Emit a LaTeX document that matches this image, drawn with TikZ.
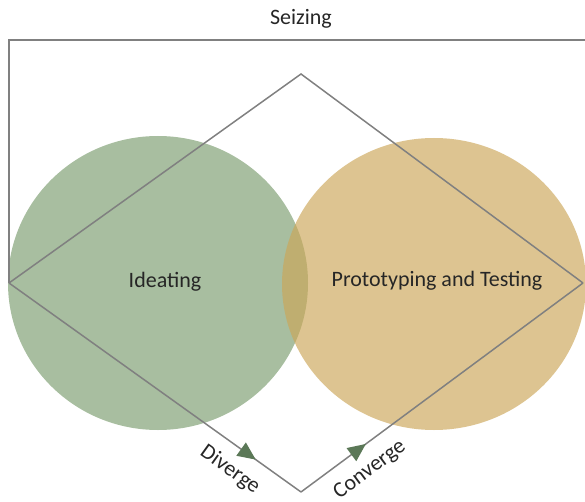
\documentclass[tikz,border=0pt]{standalone}
\usepackage{fontspec}
\setmainfont{Carlito}
\usetikzlibrary{arrows.meta, positioning, shapes.geometric, decorations.markings}
\definecolor{ideaGreen}{HTML}{A8BEA0}
\definecolor{protoTan}{HTML}{CCA658}
\definecolor{lineGray}{HTML}{808080}
\definecolor{tipGreen}{HTML}{5B7857}
\definecolor{textDark}{HTML}{262626}
\tikzset{
  blob/.style={ellipse, inner sep=0pt},
  edgeG/.style={lineGray, line width=1.5pt},
  flowTip/.style={edgeG, postaction={decorate}, decoration={markings,
      mark=at position #1 with {\arrow{Triangle[length=18pt, width=16pt, color=tipGreen]}}}},
  tag/.style={text=textDark, font=\fontsize{22}{26}\selectfont, inner sep=0pt},
}

\begin{document}
\begin{tikzpicture}[x=1pt, y=-1pt]
    \useasboundingbox (0,0) rectangle (585,502);
    % the two overlapping phases
    \node[blob, fill=ideaGreen, minimum width=300pt, minimum height=294pt] (idea) at (158,283) {};
    \node[blob, fill=protoTan, fill opacity=0.66, minimum width=304pt, minimum height=292pt] (proto) at (434,284) {};
    \node[tag] (ideaLbl) at (165,282) {Ideating};
    \node[tag] (protoLbl) at (437,281) {Prototyping and Testing};
    % outer frame
    \coordinate (left) at (9,283);
    \coordinate (top) at (301,74);
    \coordinate (bottom) at (301,492);
    \coordinate (right) at (583,283);
    \coordinate (frameTL) at (9,40);
    \coordinate (frameTR) at (585,40);
    \node[tag] (seize) at (301,19) {Seizing};
    \draw[edgeG] (left) -- (frameTL) -- (frameTR);
    % diamond
    \draw[edgeG] (left) -- (top) -- (right);
    \draw[flowTip=0.845] (left) -- (bottom);
    \draw[flowTip=0.23] (bottom) -- (right);
    \node[tag, rotate=-35.6] (div) at (230,470) {Diverge};
    \node[tag, rotate=36.5] (conv) at (370,470) {Converge};
\end{tikzpicture}
\end{document}
